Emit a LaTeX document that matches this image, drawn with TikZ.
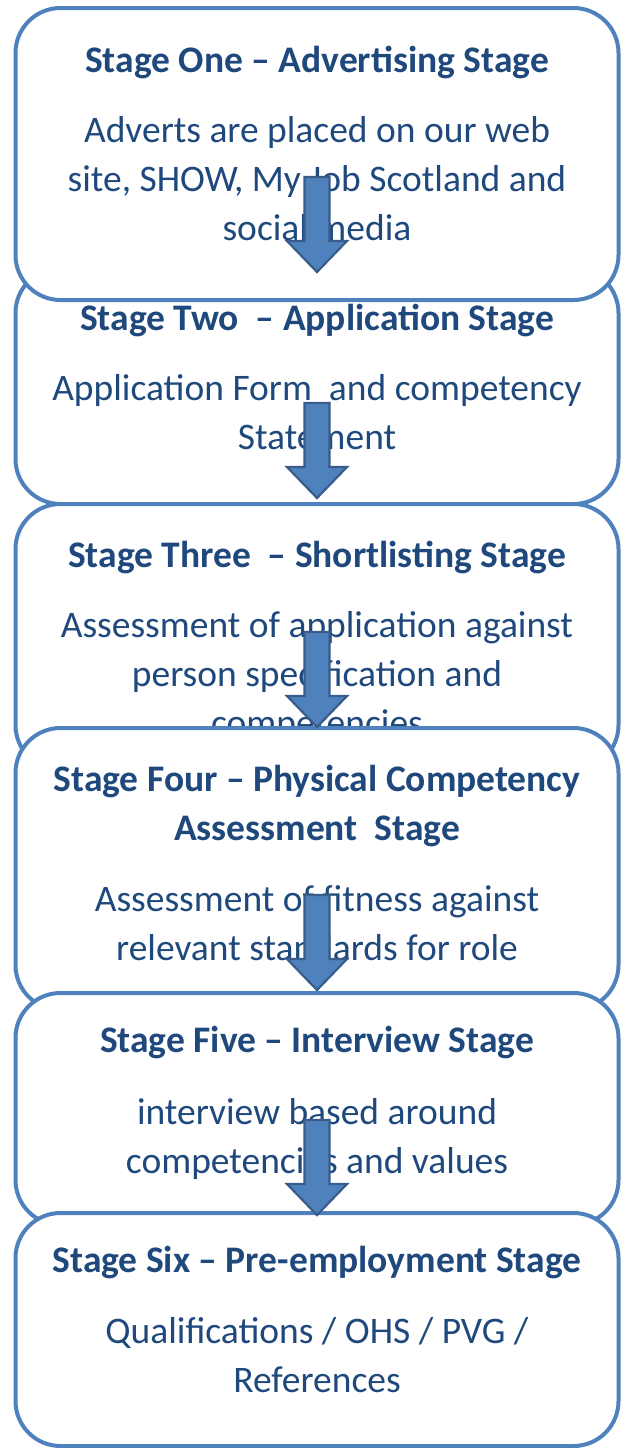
\documentclass[tikz,border=0pt]{standalone}
\usepackage{fontspec}
\setmainfont{Carlito}
\usetikzlibrary{calc}
\definecolor{boxline}{HTML}{4F81BD}
\definecolor{txtblue}{HTML}{1F497D}
\definecolor{arrfill}{HTML}{4F81BD}
\definecolor{arrline}{HTML}{385D8A}
\tikzset{
  stagebox/.style={draw=boxline, line width=4pt, fill=white, rounded corners=45pt, minimum width=603pt, inner sep=0pt},
  titletxt/.style={anchor=base, align=center, text=txtblue, font=\fontsize{37.5}{49}\selectfont\bfseries, inner sep=0pt},
  bodytxt/.style={anchor=base, align=center, text=txtblue, font=\fontsize{37.5}{49}\selectfont, inner sep=0pt},
  blockarrow/.style={draw=arrline, line width=2.2pt, fill=arrfill, line join=miter}
}
\newcommand\stagearrow[2]{%
  \draw[blockarrow] ($(#1)+(-12.5,0)$) -- ($(#1)+(12.5,0)$) -- ($(#2)+(12.5,-31)$) -- ($(#2)+(30,-31)$) -- (#2) -- ($(#2)+(-30,-31)$) -- ($(#2)+(-12.5,-31)$) -- cycle;}
\begin{document}
\begin{tikzpicture}[x=1pt, y=-1pt]
  \path[fill=white, use as bounding box] (0,0) rectangle (627,1448);
  % Box 2 (below box 1)
  \node[stagebox, minimum height=236pt] (b2) at (317,386) {};
  \node[titletxt] (t2) at (317,330) {Stage Two\ \ – Application Stage};
  \node[bodytxt] (d2) at (317,449) {Application Form\ \ and competency\\Statement};
  % Box 1
  \node[stagebox, minimum height=292pt] (b1) at (317,154) {};
  \node[titletxt] (t1) at (317,72) {Stage One – Advertising Stage};
  \node[bodytxt] (d1) at (317,240) {Adverts are placed on our web\\site, SHOW, My Job Scotland and\\social media};
  % Box 3
  \node[stagebox, minimum height=266pt] (b3) at (317,637) {};
  \node[titletxt] (t3) at (317,567) {Stage Three\ \ – Shortlisting Stage};
  \node[bodytxt] (d3) at (317,735) {Assessment of application against\\person specification and\\competencies};
  % Box 4
  \node[stagebox, minimum height=282pt] (b4) at (317,869) {};
  \node[titletxt] (t4) at (317,840) {Stage Four – Physical Competency\\Assessment\ \ Stage};
  \node[bodytxt] (d4) at (317,960) {Assessment of fitness against\\relevant standards for role};
  % Box 5
  \node[stagebox, minimum height=232pt] (b5) at (317,1109) {};
  \node[titletxt] (t5) at (317,1052) {Stage Five – Interview Stage};
  \node[bodytxt] (d5) at (317,1173) {interview based around\\competencies and values};
  % Box 6
  \node[stagebox, minimum height=233pt] (b6) at (317,1329.5) {};
  \node[titletxt] (t6) at (317,1272) {Stage Six – Pre-employment Stage};
  \node[bodytxt] (d6) at (317,1392) {Qualifications / OHS / PVG /\\References};
  % Arrows
  \coordinate (a1s) at (317,177);  \coordinate (a1e) at (317,272);
  \coordinate (a2s) at (317,403);  \coordinate (a2e) at (317,498);
  \coordinate (a3s) at (317,632);  \coordinate (a3e) at (317,727);
  \coordinate (a4s) at (317,895);  \coordinate (a4e) at (317,990);
  \coordinate (a5s) at (317,1120); \coordinate (a5e) at (317,1215);
  \stagearrow{a1s}{a1e}
  \stagearrow{a2s}{a2e}
  \stagearrow{a3s}{a3e}
  \stagearrow{a4s}{a4e}
  \stagearrow{a5s}{a5e}
\end{tikzpicture}
\end{document}
